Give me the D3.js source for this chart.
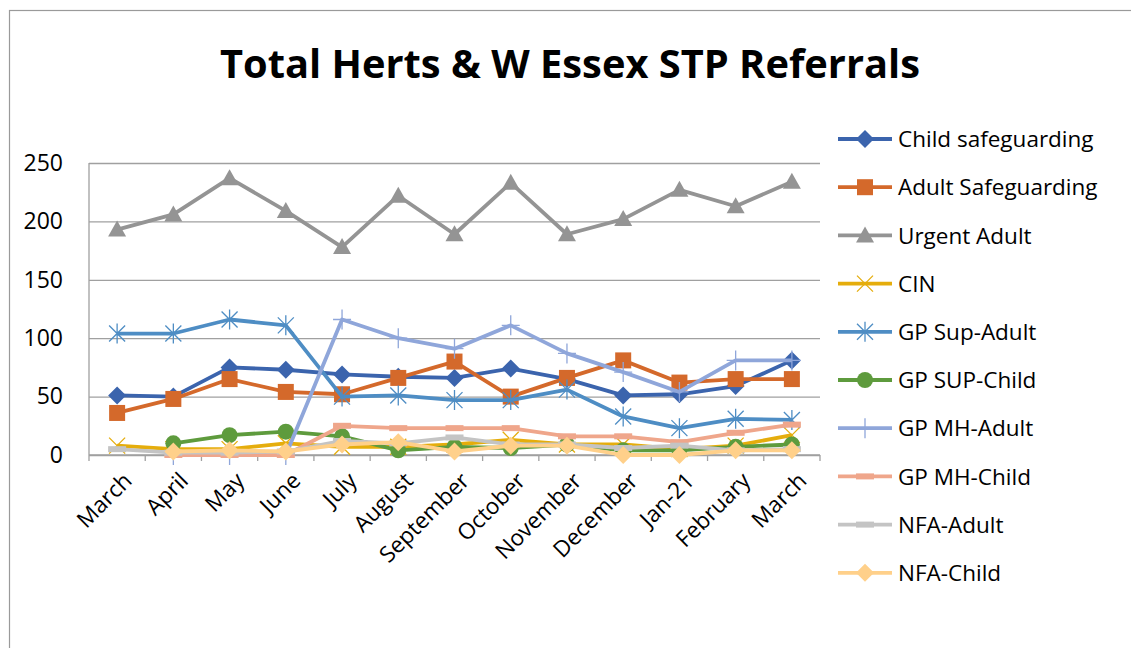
<!DOCTYPE html>
<html>
<head>
<meta charset="utf-8">
<script src="https://cdn.jsdelivr.net/npm/d3@7"></script>
<style>
  body { margin: 0; background: #fff; }
  text { font-family: "Open Sans", "Noto Sans", sans-serif; fill: #000; }
</style>
</head>
<body>
<script>
// month labels (two Marches, so the scale runs on index)
var months = ["March", "April", "May", "June", "July", "August", "September",
  "October", "November", "December", "Jan-21", "February", "March"];

var childSafeguarding = [51, 50, 75, 73, 69, 67, 66, 74, 65, 51, 52, 59, 81];
var adultSafeguarding = [36, 48, 65, 54, 52, 66, 80, 50, 66, 81, 62, 65, 65];
var urgentAdult = [193, 206, 237, 209, 178, 222, 189, 233, 189, 202, 227, 213, 234];
var cin = [8, 5, 5, 10, 7, 7, 9, 13, 9, 9, 5, 8, 17];
var gpSupAdult = [104, 104, 116, 111, 50, 51, 47, 47, 56, 33, 23, 31, 30];
var gpSupChild = [null, 10, 17, 20, 16, 4, 7, 6, 9, 4, 4, 7, 9];
var gpMhAdult = [null, 0, 0, 0, 116, 100, 91, 111, 87, 71, 54, 81, 81];
var gpMhChild = [null, 0, 0, 0, 25, 23, 23, 23, 16, 16, 11, 19, 26];
var nfaAdult = [5, 2, 2, 3, 12, 10, 15, 9, 9, 6, 8, 4, 5];
var nfaChild = [null, 3, 4, 3, 9, 11, 3, 8, 8, 0, 0, 4, 4];

var yTicks = [0, 50, 100, 150, 200, 250];

var series = [
  {name: "Child safeguarding", values: childSafeguarding, color: "#3b64ad", marker: "diamond"},
  {name: "Adult Safeguarding", values: adultSafeguarding, color: "#d4692b", marker: "square"},
  {name: "Urgent Adult", values: urgentAdult, color: "#949494", marker: "triangle"},
  {name: "CIN", values: cin, color: "#e5ad0c", marker: "x"},
  {name: "GP Sup-Adult", values: gpSupAdult, color: "#4e8dc4", marker: "star"},
  {name: "GP SUP-Child", values: gpSupChild, color: "#5e9b3d", marker: "circle"},
  {name: "GP MH-Adult", values: gpMhAdult, color: "#8fa6da", marker: "plus"},
  {name: "GP MH-Child", values: gpMhChild, color: "#efa68b", marker: "dash"},
  {name: "NFA-Adult", values: nfaAdult, color: "#c4c4c4", marker: "dash"},
  {name: "NFA-Child", values: nfaChild, color: "#ffd08a", marker: "diamond"}
];

///////////////////////////
// SVG
var W = 1131, H = 648;
var plot = {left: 89, right: 820, top: 163, bottom: 455};

var svg = d3.select("body").append("svg")
  .attr("width", W)
  .attr("height", H);

// chart border (cut off at right / bottom like the screenshot)
svg.append("rect")
  .attr("x", 9.5).attr("y", 10.5)
  .attr("width", 1300).attr("height", 800)
  .attr("fill", "#fff")
  .attr("stroke", "#9a9a9a")
  .attr("stroke-width", 1.2);

svg.append("text")
  .attr("x", 570).attr("y", 78)
  .attr("text-anchor", "middle")
  .attr("font-weight", "bold")
  .attr("font-size", 40)
  .attr("textLength", 700)
  .attr("lengthAdjust", "spacingAndGlyphs")
  .text("Total Herts & W Essex STP Referrals");

var x = d3.scaleBand()
  .domain(d3.range(months.length))
  .range([plot.left, plot.right]);
var cx = function(i) { return x(i) + x.bandwidth() / 2; };

var y = d3.scaleLinear().domain([0, 250]).range([plot.bottom, plot.top]);

// y axis + gridlines
var yAxis = svg.append("g")
  .attr("transform", "translate(" + plot.left + ",0)")
  .call(d3.axisLeft(y).tickValues(yTicks)
    .tickSize(-(plot.right - plot.left)).tickPadding(26));
yAxis.select(".domain").remove();
yAxis.selectAll("line").attr("stroke", "#a0a0a0").attr("stroke-width", 1.3);
yAxis.selectAll("text").attr("font-size", 23).attr("fill", "#000");

// vertical axis line
svg.append("line")
  .attr("x1", plot.left).attr("x2", plot.left)
  .attr("y1", plot.top).attr("y2", plot.bottom)
  .attr("stroke", "#a0a0a0").attr("stroke-width", 1.3);

// x tick marks at band edges
var edges = d3.range(months.length + 1).map(function(i) {
  return plot.left + i * x.bandwidth();
});
svg.append("g").selectAll("line")
  .data(edges).enter().append("line")
  .attr("x1", function(d) { return d; }).attr("x2", function(d) { return d; })
  .attr("y1", plot.bottom).attr("y2", plot.bottom + 6)
  .attr("stroke", "#a0a0a0").attr("stroke-width", 1.3);
svg.append("line")
  .attr("x1", plot.left).attr("x2", plot.right)
  .attr("y1", plot.bottom).attr("y2", plot.bottom)
  .attr("stroke", "#a0a0a0").attr("stroke-width", 1.3);

// x labels rotated
svg.append("g").selectAll("text")
  .data(months).enter().append("text")
  .attr("transform", function(d, i) {
    return "translate(" + (cx(i) + 5) + "," + (plot.bottom + 16) + ") rotate(-45)";
  })
  .attr("text-anchor", "end")
  .attr("dy", "0.7em")
  .attr("font-size", 22.5)
  .text(function(d) { return d; });

///////////////////////////
// MARKERS
function drawMarker(g, type, color) {
  if (type == "diamond") {
    g.append("path").attr("d", "M0,-9L9,0L0,9L-9,0Z").attr("fill", color);
  } else if (type == "square") {
    g.append("rect").attr("x", -8).attr("y", -8).attr("width", 16).attr("height", 16)
      .attr("fill", color);
  } else if (type == "triangle") {
    g.append("path").attr("d", "M0,-9L9,7L-9,7Z").attr("fill", color);
  } else if (type == "circle") {
    g.append("circle").attr("r", 8).attr("fill", color);
  } else if (type == "x") {
    g.append("path").attr("d", "M-8,-8L8,8M-8,8L8,-8")
      .attr("stroke", color).attr("stroke-width", 1.3);
  } else if (type == "star") {
    g.append("path").attr("d", "M-8,-8L8,8M-8,8L8,-8M0,-10L0,10")
      .attr("stroke", color).attr("stroke-width", 1.3);
  } else if (type == "plus") {
    g.append("path").attr("d", "M0,-10L0,10M-9,0L9,0")
      .attr("stroke", color).attr("stroke-width", 1.3);
  } else if (type == "dash") {
    g.append("rect").attr("x", -9).attr("y", -3).attr("width", 18).attr("height", 6)
      .attr("fill", color);
  }
}

///////////////////////////
// LINES
var line = d3.line()
  .defined(function(d) { return d != null; })
  .x(function(d, i) { return cx(i); })
  .y(function(d) { return y(d); });

series.forEach(function(s) {
  var g = svg.append("g").attr("class", "series");
  g.append("path")
    .datum(s.values)
    .attr("d", line)
    .attr("fill", "none")
    .attr("stroke", s.color)
    .attr("stroke-width", 3.8)
    .attr("stroke-linejoin", "round");
  s.values.forEach(function(v, i) {
    if (v == null) { return; }
    var m = g.append("g").attr("transform", "translate(" + cx(i) + "," + y(v) + ")");
    drawMarker(m, s.marker, s.color);
  });
});

///////////////////////////
// LEGEND
var legend = svg.append("g").attr("transform", "translate(838,139)");
series.forEach(function(s, i) {
  var row = legend.append("g").attr("transform", "translate(0," + (i * 48.2) + ")");
  row.append("line")
    .attr("x1", 0).attr("x2", 54).attr("y1", 0).attr("y2", 0)
    .attr("stroke", s.color).attr("stroke-width", 3.8);
  drawMarker(row.append("g").attr("transform", "translate(27,0)"), s.marker, s.color);
  row.append("text")
    .attr("x", 60).attr("y", 0).attr("dy", "0.36em")
    .attr("font-size", 22.5)
    .text(s.name);
});
</script>
</body>
</html>
